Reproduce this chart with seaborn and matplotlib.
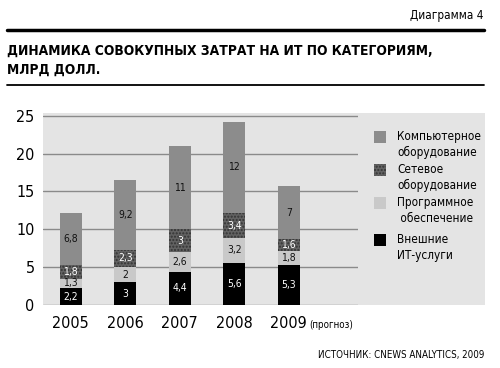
import matplotlib
matplotlib.use("Agg")
import matplotlib.pyplot as plt
from matplotlib.patches import Rectangle
from matplotlib.lines import Line2D
from matplotlib import font_manager
import seaborn as sns
import pandas as pd

years = ["2005", "2006", "2007", "2008", "2009"]
ext_services = [2.2, 3, 4.4, 5.6, 5.3]
software = [1.3, 2, 2.6, 3.2, 1.8]
network = [1.8, 2.3, 3, 3.4, 1.6]
computers = [6.8, 9.2, 11, 12, 7]
series_names = ["Компьютерное\nоборудование", "Сетевое\nоборудование",
                "Программное\n обеспечение", "Внешние\nИТ-услуги"]
yticks = [0, 5, 10, 15, 20, 25]

sns.set_theme(style="white")
names = {f.name for f in font_manager.fontManager.ttflist}
FONT = [n for n in ["Liberation Sans Narrow", "DejaVu Sans"] if n in names] or ["DejaVu Sans"]
plt.rcParams["font.family"] = FONT
plt.rcParams["font.stretch"] = "condensed"
plt.rcParams["hatch.linewidth"] = 1.0
plt.rcParams["text.color"] = "black"
plt.rcParams["xtick.color"] = "black"
plt.rcParams["ytick.color"] = "black"
plt.rcParams["xtick.labelcolor"] = "black"
plt.rcParams["ytick.labelcolor"] = "black"

W, H = 500, 368
fig = plt.figure(figsize=(5, 3.68), dpi=100)
fig.patch.set_facecolor("white")

def fx(px):
    return px / W

def fy(py):
    return 1 - py / H

def fmt(v):
    return f"{v:g}".replace(".", ",")

PANEL = "#e4e4e4"
fig.patches.append(Rectangle((fx(43), fy(305)), fx(485) - fx(43), fy(113) - fy(305),
                             transform=fig.transFigure, facecolor=PANEL, edgecolor="none", zorder=-5))

ax = fig.add_axes([fx(43), fy(305), fx(358) - fx(43), fy(115) - fy(305)])
ax.set_facecolor(PANEL)
ax.patch.set_alpha(0)

df = pd.DataFrame({"year": years, "ext": ext_services, "soft": software,
                   "net": network, "comp": computers})
b1 = [0.0] * len(years)
b2 = [a + b for a, b in zip(ext_services, software)]
b3 = [a + b for a, b in zip(b2, network)]

layers = [
    ("ext", ext_services, b1, "#000000", "#000000", None, "white"),
    ("soft", software, list(ext_services), "#c9c9c9", "#b5b5b5", None, "#111111"),
    ("net", network, b2, "#626262", "#333333", ".....", "white"),
    ("comp", computers, b3, "#8c8c8c", "#8c8c8c", None, "#111111"),
]
for col, vals, bottom, fc, ec, hatch, tc in layers:
    sns.barplot(data=df, x="year", y=col, bottom=bottom, color=fc, saturation=1,
                width=0.4, ax=ax, edgecolor=ec, linewidth=0, hatch=hatch, zorder=3)
    for i, (v, b) in enumerate(zip(vals, bottom)):
        ax.text(i, b + v / 2, fmt(v), ha="center", va="center",
                fontsize=7.5, color=tc, zorder=5)

ax.set_xlim(-0.51, 5.27)
ax.set_ylim(0, 25.1)
ax.set_yticks(yticks)
ax.set_yticklabels([str(t) for t in yticks], fontsize=11.5)
ax.tick_params(axis="y", length=0, pad=6, labelcolor="black")
ax.tick_params(axis="x", length=0, pad=8, labelsize=11.5, labelcolor="black")
ax.set_xlabel("")
ax.set_ylabel("")
for s in ax.spines.values():
    s.set_visible(False)
for t in yticks[1:]:
    ax.axhline(t, color="#8a8a8a", lw=1.0, zorder=1)
ax.axhline(0, color="#8a8a8a", lw=1.0, zorder=1)

fig.text(fx(309), fy(325), "(прогноз)", fontsize=7, ha="left", va="center")

leg_items = [("#8c8c8c", None, "#8c8c8c"), ("#626262", ".....", "#333333"),
             ("#c9c9c9", None, "#b5b5b5"), ("#000000", None, "#000000")]
leg_y = [137, 170, 203, 240]
for (fc, hatch, ec), name, y in zip(leg_items, series_names, leg_y):
    fig.patches.append(Rectangle((fx(374), fy(y + 6)), fx(12), 12 / H,
                                 transform=fig.transFigure, facecolor=fc, edgecolor=ec,
                                 hatch=hatch, lw=0, zorder=2))
    fig.text(fx(397), fy(y - 7), name, fontsize=8.5, ha="left", va="top",
             linespacing=1.3)

fig.text(fx(484), fy(16), "Диаграмма 4", fontsize=8.5, ha="right", va="center")
fig.add_artist(Line2D([fx(7), fx(484)], [fy(30), fy(30)], transform=fig.transFigure,
                      color="black", lw=2.5))
title = fig.text(fx(7), fy(60), "ДИНАМИКА СОВОКУПНЫХ ЗАТРАТ НА ИТ ПО КАТЕГОРИЯМ,\nМЛРД ДОЛЛ.",
                 fontsize=11.5, fontweight="bold", ha="left", va="center", linespacing=1.45)
renderer = fig.canvas.get_renderer()
w = title.get_window_extent(renderer).width
title.set_fontsize(11.5 * 430 / w)
fig.add_artist(Line2D([fx(7), fx(484)], [fy(85), fy(85)], transform=fig.transFigure,
                      color="black", lw=1.3))
fig.text(fx(484), fy(355), "ИСТОЧНИК: CNEWS ANALYTICS, 2009", fontsize=7, ha="right", va="center")

fig.savefig("out.png", dpi=100)
